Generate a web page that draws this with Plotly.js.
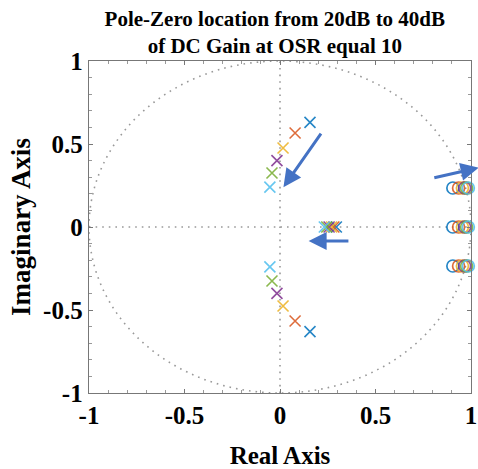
<!DOCTYPE html>
<html>
<head>
<meta charset="utf-8">
<script src="https://cdn.plot.ly/plotly-3.0.1.min.js"></script>
<style>html,body{margin:0;padding:0;background:#fff;}#chart{width:478px;height:469px;}</style>
</head>
<body>
<div id="chart"></div>
<script>
// DC gain steps from 20dB (first) to 40dB (last)
const seriesNames = ["20dB", "24dB", "28dB", "32dB", "36dB", "40dB"];
const seriesColors = ["#0072BD", "#D95319", "#EDB120", "#7E2F8E", "#77AC30", "#4DBEEE"];

// complex pole pair (real, imag of upper pole)
const poleRe = [0.157, 0.079, 0.016, -0.016, -0.042, -0.053];
const poleIm = [0.630, 0.566, 0.476, 0.400, 0.325, 0.240];
// real pole
const realPole = [0.295, 0.282, 0.270, 0.257, 0.245, 0.232];
// zeros (real part, imag of upper zero)
const zeroRe = [0.905, 0.935, 0.955, 0.967, 0.977, 0.986];
const zeroIm = [0.235, 0.235, 0.235, 0.235, 0.235, 0.235];

// axis ticks
const tickVals = [-1, -0.5, 0, 0.5, 1];
const tickText = ["-1", "-0.5", "0", "0.5", "1"];

// arrows: [tailX, tailY, headX, headY]
const arrows = [
  [0.220, 0.572, 0.018, 0.240],
  [0.366, -0.084, 0.150, -0.084],
  [0.800, 0.295, 1.040, 0.357]
];

const traces = [];
for (let i = 0; i < seriesNames.length; i++) {
  traces.push({
    type: "scatter", mode: "markers", name: seriesNames[i] + " poles",
    x: [poleRe[i], poleRe[i], realPole[i]],
    y: [poleIm[i], -poleIm[i], 0],
    marker: {symbol: "x-thin-open", size: 11, color: seriesColors[i], line: {width: 1.6, color: seriesColors[i]}},
    opacity: 0.85,
    showlegend: false, cliponaxis: false
  });
}
for (let i = 0; i < seriesNames.length; i++) {
  traces.push({
    type: "scatter", mode: "markers", name: seriesNames[i] + " zeros",
    x: [zeroRe[i], zeroRe[i], zeroRe[i]],
    y: [zeroIm[i], 0, -zeroIm[i]],
    marker: {symbol: "circle-open", size: 12, color: seriesColors[i], line: {width: 1.7, color: seriesColors[i]}},
    opacity: 0.85,
    showlegend: false, cliponaxis: false
  });
}

const serif = "Liberation Serif, Times New Roman, serif";
const tickFont = {family: serif, size: 25, color: "#000", weight: 700};
const gridDot = {color: "#999", width: 1.6, dash: "1.6px,5px"};

const axisCommon = {
  range: [-1, 1], tickmode: "array", tickvals: tickVals, ticktext: tickText,
  ticks: "inside", ticklen: 4, tickcolor: "#777",
  showline: true, linecolor: "#777", linewidth: 1.3, mirror: "ticks",
  showgrid: false, zeroline: false, tickfont: tickFont, fixedrange: true,
  minor: {ticks: "inside", dtick: 0.1, ticklen: 3, tickcolor: "#999", showgrid: false}
};

const layout = {
  width: 478, height: 469,
  margin: {l: 89, r: 7, t: 61, b: 76},
  paper_bgcolor: "#fff", plot_bgcolor: "#fff",
  showlegend: false,
  title: {
    text: "Pole-Zero location from 20dB to 40dB<br>of DC Gain at OSR equal 10",
    font: {family: serif, size: 21, color: "#000", weight: 700},
    xref: "container", x: 0.575, xanchor: "center",
    yref: "container", y: 0.945, yanchor: "top"
  },
  xaxis: Object.assign({}, axisCommon, {
    ticklabelstandoff: 0,
    title: {text: "Real Axis", font: {family: serif, size: 25, color: "#000", weight: 700}, standoff: 21}
  }),
  yaxis: Object.assign({}, axisCommon, {
    ticklabelstandoff: 0,
    title: {text: "Imaginary Axis", font: {family: serif, size: 27, color: "#000", weight: 700}, standoff: 4}
  }),
  shapes: [
    {type: "circle", xref: "x", yref: "y", x0: -1, y0: -1, x1: 1, y1: 1, line: gridDot, layer: "below"},
    {type: "line", xref: "x", yref: "y", x0: 0, x1: 0, y0: -1, y1: 1, line: gridDot, layer: "below"},
    {type: "line", xref: "x", yref: "y", x0: -1, x1: 1, y0: 0, y1: 0, line: gridDot, layer: "below"}
  ],
  annotations: arrows.map(a => ({
    xref: "x", yref: "y", axref: "x", ayref: "y",
    x: a[2], y: a[3], ax: a[0], ay: a[1],
    text: "", showarrow: true, arrowhead: 2, arrowsize: 1.2, arrowwidth: 3, arrowcolor: "#4472C4"
  }))
};

Plotly.newPlot("chart", traces, layout, {displayModeBar: false, staticPlot: true});
</script>
</body>
</html>
